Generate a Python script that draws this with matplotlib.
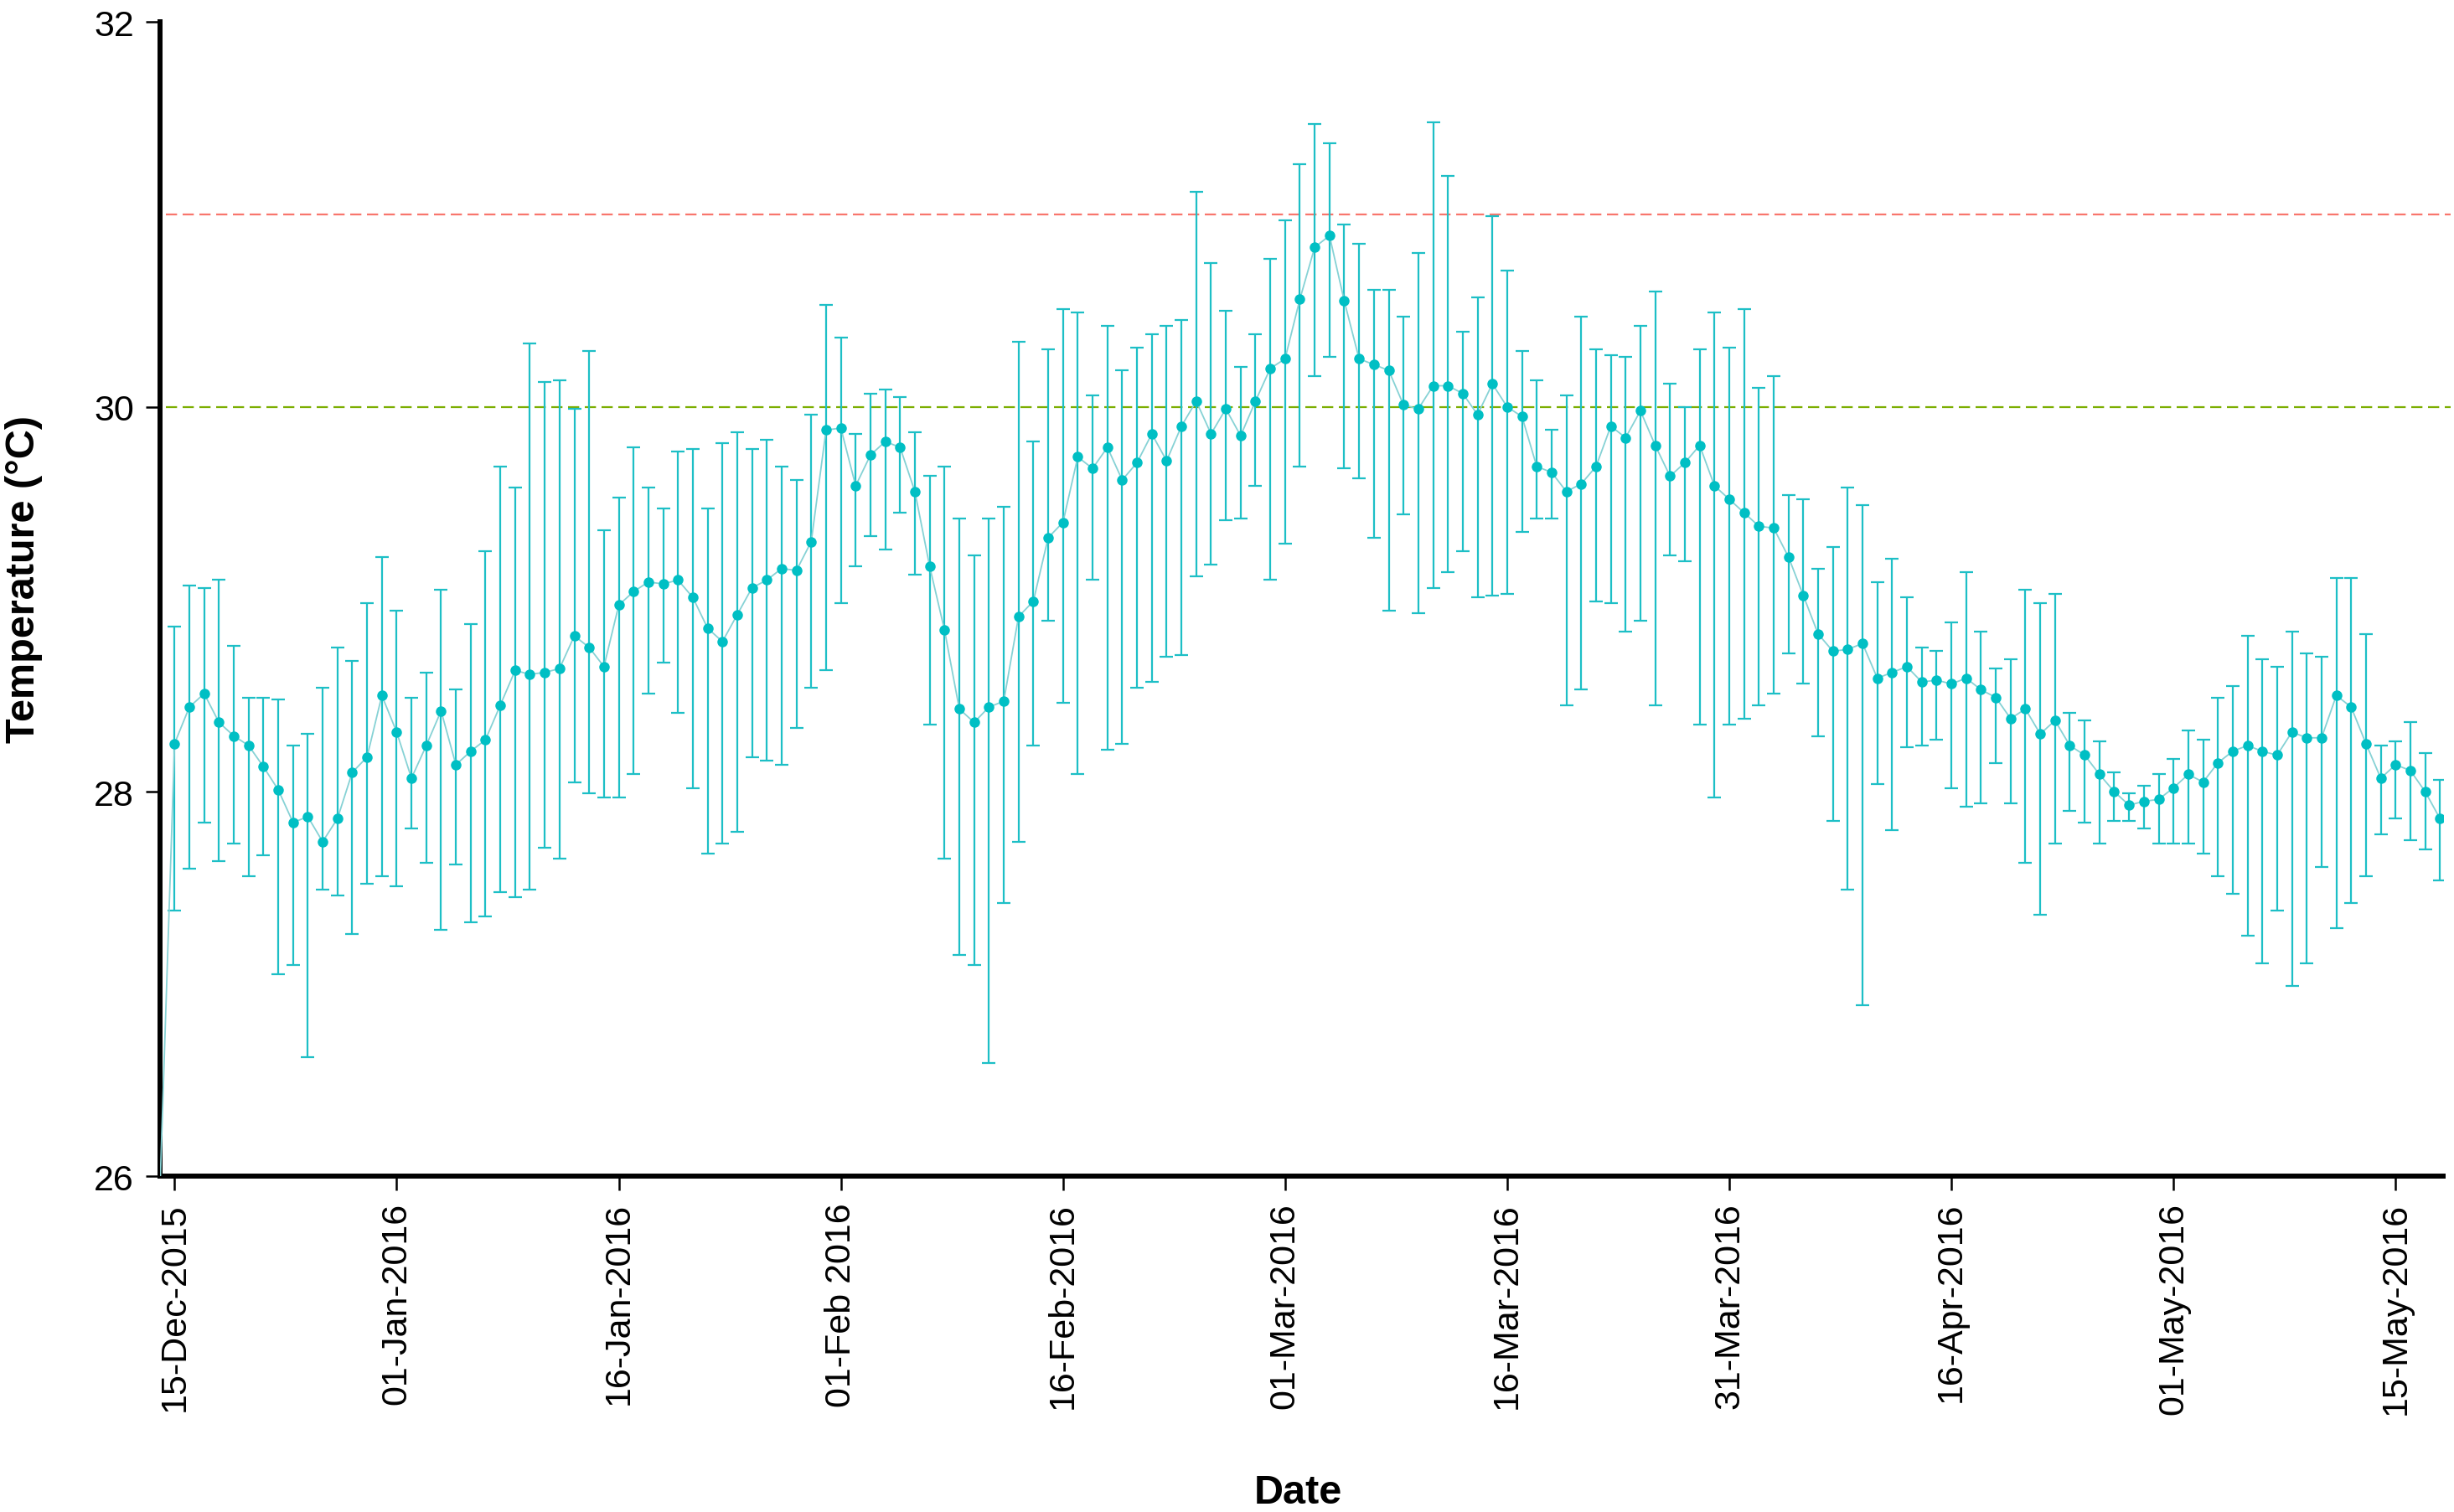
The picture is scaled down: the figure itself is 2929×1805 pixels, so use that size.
import numpy as np
import matplotlib
matplotlib.use("Agg")
import matplotlib.pyplot as plt

plt.rcParams['font.family'] = ['Liberation Sans', 'DejaVu Sans']

# mean temperature per sample (first sample is below the axis and gets clipped)
temp_mean = [25.90,
    28.25, 28.44, 28.51, 28.36, 28.29, 28.24, 28.13, 28.01, 27.84, 27.87,
    27.74, 27.86, 28.10, 28.18, 28.50, 28.31, 28.07, 28.24, 28.42, 28.14,
    28.21, 28.27, 28.45, 28.63, 28.61, 28.62, 28.64, 28.81, 28.75, 28.65,
    28.97, 29.04, 29.09, 29.08, 29.10, 29.01, 28.85, 28.78, 28.92, 29.06,
    29.10, 29.16, 29.15, 29.30, 29.88, 29.89, 29.59, 29.75, 29.82, 29.79,
    29.56, 29.17, 28.84, 28.43, 28.36, 28.44, 28.47, 28.91, 28.99, 29.32,
    29.40, 29.74, 29.68, 29.79, 29.62, 29.71, 29.86, 29.72, 29.90, 30.03,
    29.86, 29.99, 29.85, 30.03, 30.20, 30.25, 30.56, 30.83, 30.89, 30.55,
    30.25, 30.22, 30.19, 30.01, 29.99, 30.11, 30.11, 30.07, 29.96, 30.12,
    30.00, 29.95, 29.69, 29.66, 29.56, 29.60, 29.69, 29.90, 29.84, 29.98,
    29.80, 29.64, 29.71, 29.80, 29.59, 29.52, 29.45, 29.38, 29.37, 29.22,
    29.02, 28.82, 28.73, 28.74, 28.77, 28.59, 28.62, 28.65, 28.57, 28.58,
    28.56, 28.59, 28.53, 28.49, 28.38, 28.43, 28.30, 28.37, 28.24, 28.19,
    28.09, 28.00, 27.93, 27.95, 27.96, 28.02, 28.09, 28.05, 28.15, 28.21,
    28.24, 28.21, 28.19, 28.31, 28.28, 28.28, 28.50, 28.44, 28.25, 28.07,
    28.14, 28.11, 28.00, 27.86]

# error bar ends (samples 1..154)
temp_upper = [
    28.86, 29.07, 29.06, 29.10, 28.76, 28.49, 28.49, 28.48, 28.24, 28.30,
    28.54, 28.75, 28.68, 28.98, 29.22, 28.94, 28.49, 28.62, 29.05, 28.53,
    28.87, 29.25, 29.69, 29.58, 30.33, 30.13, 30.14, 29.99, 30.29, 29.36,
    29.53, 29.79, 29.58, 29.47, 29.77, 29.78, 29.47, 29.81, 29.87, 29.78,
    29.83, 29.69, 29.62, 29.96, 30.53, 30.36, 29.86, 30.07, 30.09, 30.05,
    29.87, 29.64, 29.69, 29.42, 29.23, 29.42, 29.48, 30.34, 29.82, 30.30,
    30.51, 30.49, 30.06, 30.42, 30.19, 30.31, 30.38, 30.42, 30.45, 31.12,
    30.75, 30.50, 30.21, 30.38, 30.77, 30.97, 31.26, 31.47, 31.37, 30.95,
    30.85, 30.61, 30.61, 30.47, 30.80, 31.48, 31.20, 30.39, 30.57, 30.99,
    30.71, 30.29, 30.14, 29.88, 30.06, 30.47, 30.30, 30.27, 30.26, 30.42,
    30.60, 30.12, 30.00, 30.30, 30.49, 30.31, 30.51, 30.10, 30.16, 29.54,
    29.52, 29.16, 29.27, 29.58, 29.49, 29.09, 29.21, 29.01, 28.75, 28.73,
    28.88, 29.14, 28.83, 28.64, 28.69, 29.05, 28.98, 29.03, 28.41, 28.37,
    28.26, 28.10, 27.99, 28.03, 28.09, 28.17, 28.32, 28.27, 28.49, 28.55,
    28.81, 28.69, 28.65, 28.83, 28.72, 28.70, 29.11, 29.11, 28.82, 28.24,
    28.26, 28.36, 28.20, 28.06]

temp_lower = [
    27.38, 27.60, 27.84, 27.64, 27.73, 27.56, 27.67, 27.05, 27.10, 26.62,
    27.49, 27.46, 27.26, 27.52, 27.56, 27.51, 27.81, 27.63, 27.28, 27.62,
    27.32, 27.35, 27.48, 27.45, 27.49, 27.71, 27.65, 28.05, 27.99, 27.97,
    27.97, 28.09, 28.51, 28.67, 28.41, 28.02, 27.68, 27.73, 27.79, 28.18,
    28.16, 28.14, 28.33, 28.54, 28.63, 28.98, 29.17, 29.33, 29.26, 29.45,
    29.13, 28.35, 27.65, 27.15, 27.10, 26.59, 27.42, 27.74, 28.24, 28.89,
    28.46, 28.09, 29.10, 28.22, 28.25, 28.54, 28.57, 28.70, 28.71, 29.12,
    29.18, 29.41, 29.42, 29.59, 29.10, 29.29, 29.69, 30.16, 30.26, 29.68,
    29.63, 29.32, 28.94, 29.44, 28.93, 29.06, 29.14, 29.25, 29.01, 29.02,
    29.03, 29.35, 29.42, 29.42, 28.45, 28.53, 28.99, 28.98, 28.83, 28.89,
    28.45, 29.23, 29.20, 28.35, 27.97, 28.35, 28.38, 28.45, 28.51, 28.72,
    28.56, 28.29, 27.85, 27.49, 26.89, 28.04, 27.80, 28.23, 28.24, 28.27,
    28.02, 27.92, 27.94, 28.15, 27.94, 27.63, 27.36, 27.73, 27.90, 27.84,
    27.73, 27.85, 27.85, 27.81, 27.73, 27.73, 27.73, 27.68, 27.56, 27.47,
    27.25, 27.11, 27.38, 26.99, 27.11, 27.61, 27.29, 27.42, 27.56, 27.78,
    27.86, 27.75, 27.70, 27.54]

tick_labels = ["15-Dec-2015", "01-Jan-2016", "16-Jan-2016", "01-Feb 2016",
               "16-Feb-2016", "01-Mar-2016", "16-Mar-2016", "31-Mar-2016",
               "16-Apr-2016", "01-May-2016", "15-May-2016"]
tick_every = 15

upper_limit = 31
lower_limit = 30

x = np.arange(len(temp_mean))
mean = np.array(temp_mean)
xs = x[1:]
ms = mean[1:]
yerr = [ms - np.array(temp_lower), np.array(temp_upper) - ms]

fig = plt.figure(figsize=(29.29, 18.06), dpi=100)
ax = fig.add_axes([0.0651, 0.2218, 0.9304, 0.7630])

ax.hlines(upper_limit, 0.4, 154.7, colors="#F8766D", linestyles=(0, (6, 3)),
          linewidth=1.6, clip_on=False, zorder=1)
ax.hlines(lower_limit, 0.4, 154.7, colors="#7CAE00", linestyles=(0, (6, 3)),
          linewidth=1.6, clip_on=False, zorder=1)

ax.errorbar(xs, ms, yerr=yerr, fmt="none", ecolor="#1DBFC6", elinewidth=1.6,
            capsize=6, capthick=1.6, zorder=2)
ax.plot(x, mean, color="#86D2D5", linewidth=1.3, zorder=3)
ax.plot(xs, ms, "o", color="#00BFC4", markersize=9, markeredgewidth=0, zorder=4)

ax.set_xlim(0, 154.2)
ax.set_ylim(26, 32)
ax.set_yticks([26, 28, 30, 32])
ax.set_xticks(np.arange(1, len(tick_labels) * tick_every + 1, tick_every))
ax.set_xticklabels(tick_labels, rotation=90)

for side in ["top", "right"]:
    ax.spines[side].set_visible(False)
for side in ["left", "bottom"]:
    ax.spines[side].set_linewidth(4.3)
    ax.spines[side].set_color("black")

ax.tick_params(axis="both", length=12, width=1.8, labelsize=31, pad=10, colors="black")

ax.set_ylabel("Temperature (°C)", fontsize=35, fontweight="bold")
ax.yaxis.set_label_coords(0.0096, 0.617, transform=fig.transFigure)
ax.set_xlabel("Date", fontsize=35, fontweight="bold")
ax.xaxis.set_label_coords(0.529, 0.013, transform=fig.transFigure)
ax.xaxis.label.set_va("center")
ax.yaxis.label.set_va("center")

fig.savefig("out.png", dpi=100)
